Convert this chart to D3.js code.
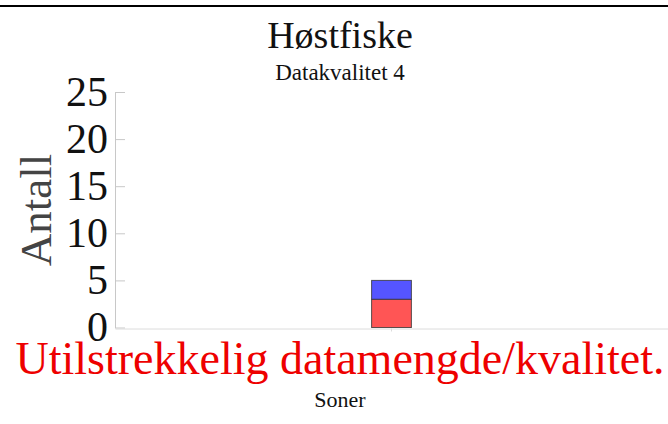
<!DOCTYPE html>
<html>
<head>
<meta charset="utf-8">
<script src="https://cdn.jsdelivr.net/npm/d3@7"></script>
<style>
  body { margin: 0; background: #fff; }
  text { font-family: "Liberation Serif", serif; }
</style>
</head>
<body>
<div id="chart"></div>
<script>
// chart size and margins
const width = 668;
const height = 424;
const margin = {left: 115, right: 0, top: 92, bottom: 97};

// data
const categories = [""];
const seriesNames = ["Serie 1", "Serie 2"];
const seriesColors = ["#ff5555", "#5555ff"];
const values1 = [3];   // red, bottom
const values2 = [2];   // blue, top
const yTicks = [0, 5, 10, 15, 20, 25];

const svg = d3.select("#chart")
  .append("svg")
  .attr("width", width)
  .attr("height", height);

// top rule
svg.append("rect")
  .attr("x", 0).attr("y", 5)
  .attr("width", width).attr("height", 2)
  .attr("fill", "#000");

// titles
svg.append("text")
  .attr("x", 340).attr("y", 48)
  .attr("text-anchor", "middle")
  .attr("font-size", "38px")
  .attr("fill", "#111")
  .text("Høstfiske");

svg.append("text")
  .attr("x", 340).attr("y", 80)
  .attr("text-anchor", "middle")
  .attr("font-size", "23px")
  .attr("fill", "#111")
  .text("Datakvalitet 4");

// scales
const yScale = d3.scaleLinear()
  .domain([0, 25])
  .range([height - margin.bottom + 0.5, margin.top]);

const xScale = d3.scaleBand()
  .domain(categories)
  .range([margin.left, width - margin.right])
  .paddingInner(0.1)
  .paddingOuter(5.8);

// stack
const rows = categories.map((c, i) => ({cat: c, s0: values1[i], s1: values2[i]}));
const stacked = d3.stack().keys(["s0", "s1"])(rows);

// y axis
const yAxis = svg.append("g")
  .attr("transform", `translate(${margin.left},0)`)
  .call(d3.axisRight(yScale).tickValues(yTicks).tickSize(10).tickSizeOuter(0));
yAxis.select(".domain").attr("stroke", "#c8c8c8");
yAxis.selectAll(".tick line").attr("stroke", "#c8c8c8");
yAxis.selectAll(".tick text")
  .attr("x", -7)
  .attr("text-anchor", "end")
  .attr("font-size", "42px")
  .attr("font-family", "Liberation Serif, serif")
  .attr("fill", "#111");

// x axis
const xAxis = svg.append("g")
  .attr("transform", `translate(0,${height - margin.bottom + 1.5})`)
  .call(d3.axisBottom(xScale).tickSize(3).tickSizeOuter(0));
xAxis.select(".domain").attr("stroke", "#dcdcdc");
xAxis.selectAll(".tick line").attr("stroke", "#dcdcdc");
xAxis.selectAll(".tick text").remove();

// bars
svg.selectAll(".layer")
  .data(stacked)
  .enter()
  .append("g")
    .attr("class", "layer")
    .attr("fill", (d, i) => seriesColors[i])
  .selectAll("rect")
  .data(d => d)
  .enter()
  .append("rect")
    .attr("x", d => xScale(d.data.cat))
    .attr("y", d => yScale(d[1]))
    .attr("height", d => yScale(d[0]) - yScale(d[1]))
    .attr("width", xScale.bandwidth())
    .attr("stroke", "#333")
    .attr("stroke-opacity", 0.8)
    .attr("stroke-width", 1);

// y axis label
svg.append("text")
  .attr("transform", "translate(51,210) rotate(-90)")
  .attr("text-anchor", "middle")
  .attr("font-size", "45px")
  .attr("fill", "#444")
  .text("Antall");

// warning
svg.append("text")
  .attr("x", 340).attr("y", 374)
  .attr("text-anchor", "middle")
  .attr("font-size", "46px")
  .attr("fill", "#ee0000")
  .text("Utilstrekkelig datamengde/kvalitet.");

// x axis title
svg.append("text")
  .attr("x", 340).attr("y", 407)
  .attr("text-anchor", "middle")
  .attr("font-size", "22px")
  .attr("fill", "#111")
  .text("Soner");
</script>
</body>
</html>
